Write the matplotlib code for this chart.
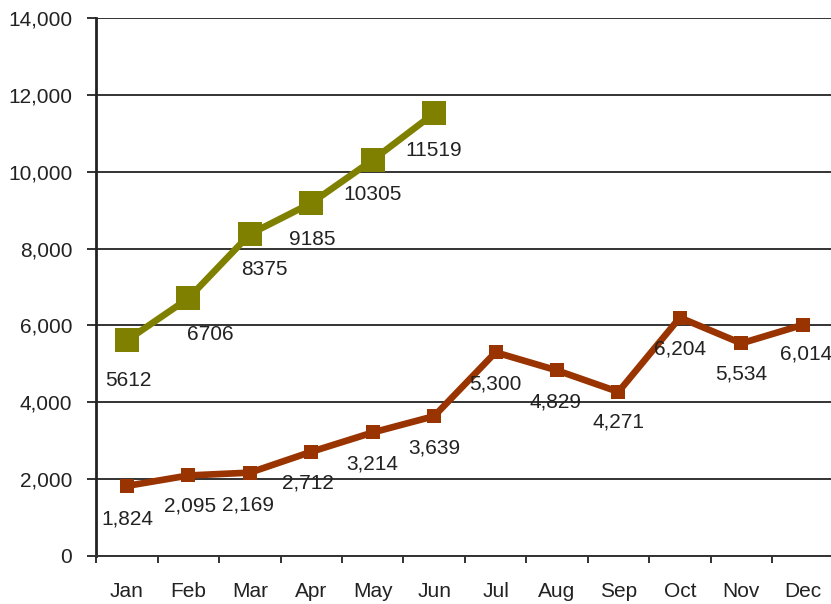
import matplotlib
matplotlib.use('Agg')
import matplotlib.pyplot as plt
from matplotlib.ticker import FuncFormatter, MultipleLocator

plt.rcParams['font.family'] = ['Liberation Sans', 'DejaVu Sans']

months = ['Jan', 'Feb', 'Mar', 'Apr', 'May', 'Jun',
          'Jul', 'Aug', 'Sep', 'Oct', 'Nov', 'Dec']
series_a = [5612, 6706, 8375, 9185, 10305, 11519]
series_b = [1824, 2095, 2169, 2712, 3214, 3639,
            5300, 4829, 4271, 6204, 5534, 6014]

# label offsets in pixels (dx, dy), picked to match the original layout
offs_a = [(1, -40), (22, -36), (15, -35), (1, -36), (0, -35), (0, -37)]
offs_b = [(0, -33), (2, -31), (-2, -32), (-3, -31), (0, -32), (0, -32),
          (0, -32), (-1, -32), (0, -30), (0, -31), (0, -31), (3, -29)]

green = '#808000'
brown = '#993300'
txt = '#222222'

fig = plt.figure(figsize=(8.31, 6.04), dpi=100)
ax = fig.add_axes([0.1159, 0.0795, 0.887, 0.8907])

xa = list(range(len(series_a)))
xb = list(range(len(series_b)))

ax.plot(xa, series_a, color=green, lw=4.8, marker='s', markersize=17,
        markeredgewidth=0, zorder=4)
ax.plot(xb, series_b, color=brown, lw=4.8, marker='s', markersize=10,
        markeredgewidth=0, zorder=4)

for x, v, (dx, dy) in zip(xa, series_a, offs_a):
    ax.annotate(str(v), (x, v), xytext=(dx, dy), textcoords='offset pixels',
                ha='center', va='center', fontsize=15, color=txt, zorder=5)
for x, v, (dx, dy) in zip(xb, series_b, offs_b):
    ax.annotate('{:,}'.format(v), (x, v), xytext=(dx, dy), textcoords='offset pixels',
                ha='center', va='center', fontsize=15, color=txt, zorder=5)

ax.set_xlim(-0.5, len(months) - 0.5)
ax.set_ylim(0, 14000)
ax.yaxis.set_major_locator(MultipleLocator(2000))
ax.yaxis.set_major_formatter(FuncFormatter(lambda v, p: '{:,}'.format(int(v))))
ax.grid(axis='y', color='#333333', lw=1.4, zorder=1)
ax.set_axisbelow(True)

ax.set_xticks(xb)
ax.set_xticklabels(months)
ax.set_xticks([i - 0.5 for i in range(len(months) + 1)], minor=True)
ax.tick_params(axis='x', which='major', length=0, pad=19, labelsize=15, labelcolor=txt)
ax.tick_params(axis='x', which='minor', length=5, width=1.3, color='#222222')
ax.tick_params(axis='y', length=6.5, width=1.3, pad=10.8, labelsize=15, labelcolor=txt,
               color='#222222')

for s in ['top', 'right']:
    ax.spines[s].set_visible(False)
ax.spines['left'].set_linewidth(2)
ax.spines['left'].set_color('#222222')
ax.spines['bottom'].set_linewidth(1.4)
ax.spines['bottom'].set_color('#333333')

fig.savefig('out.png', dpi=100)
